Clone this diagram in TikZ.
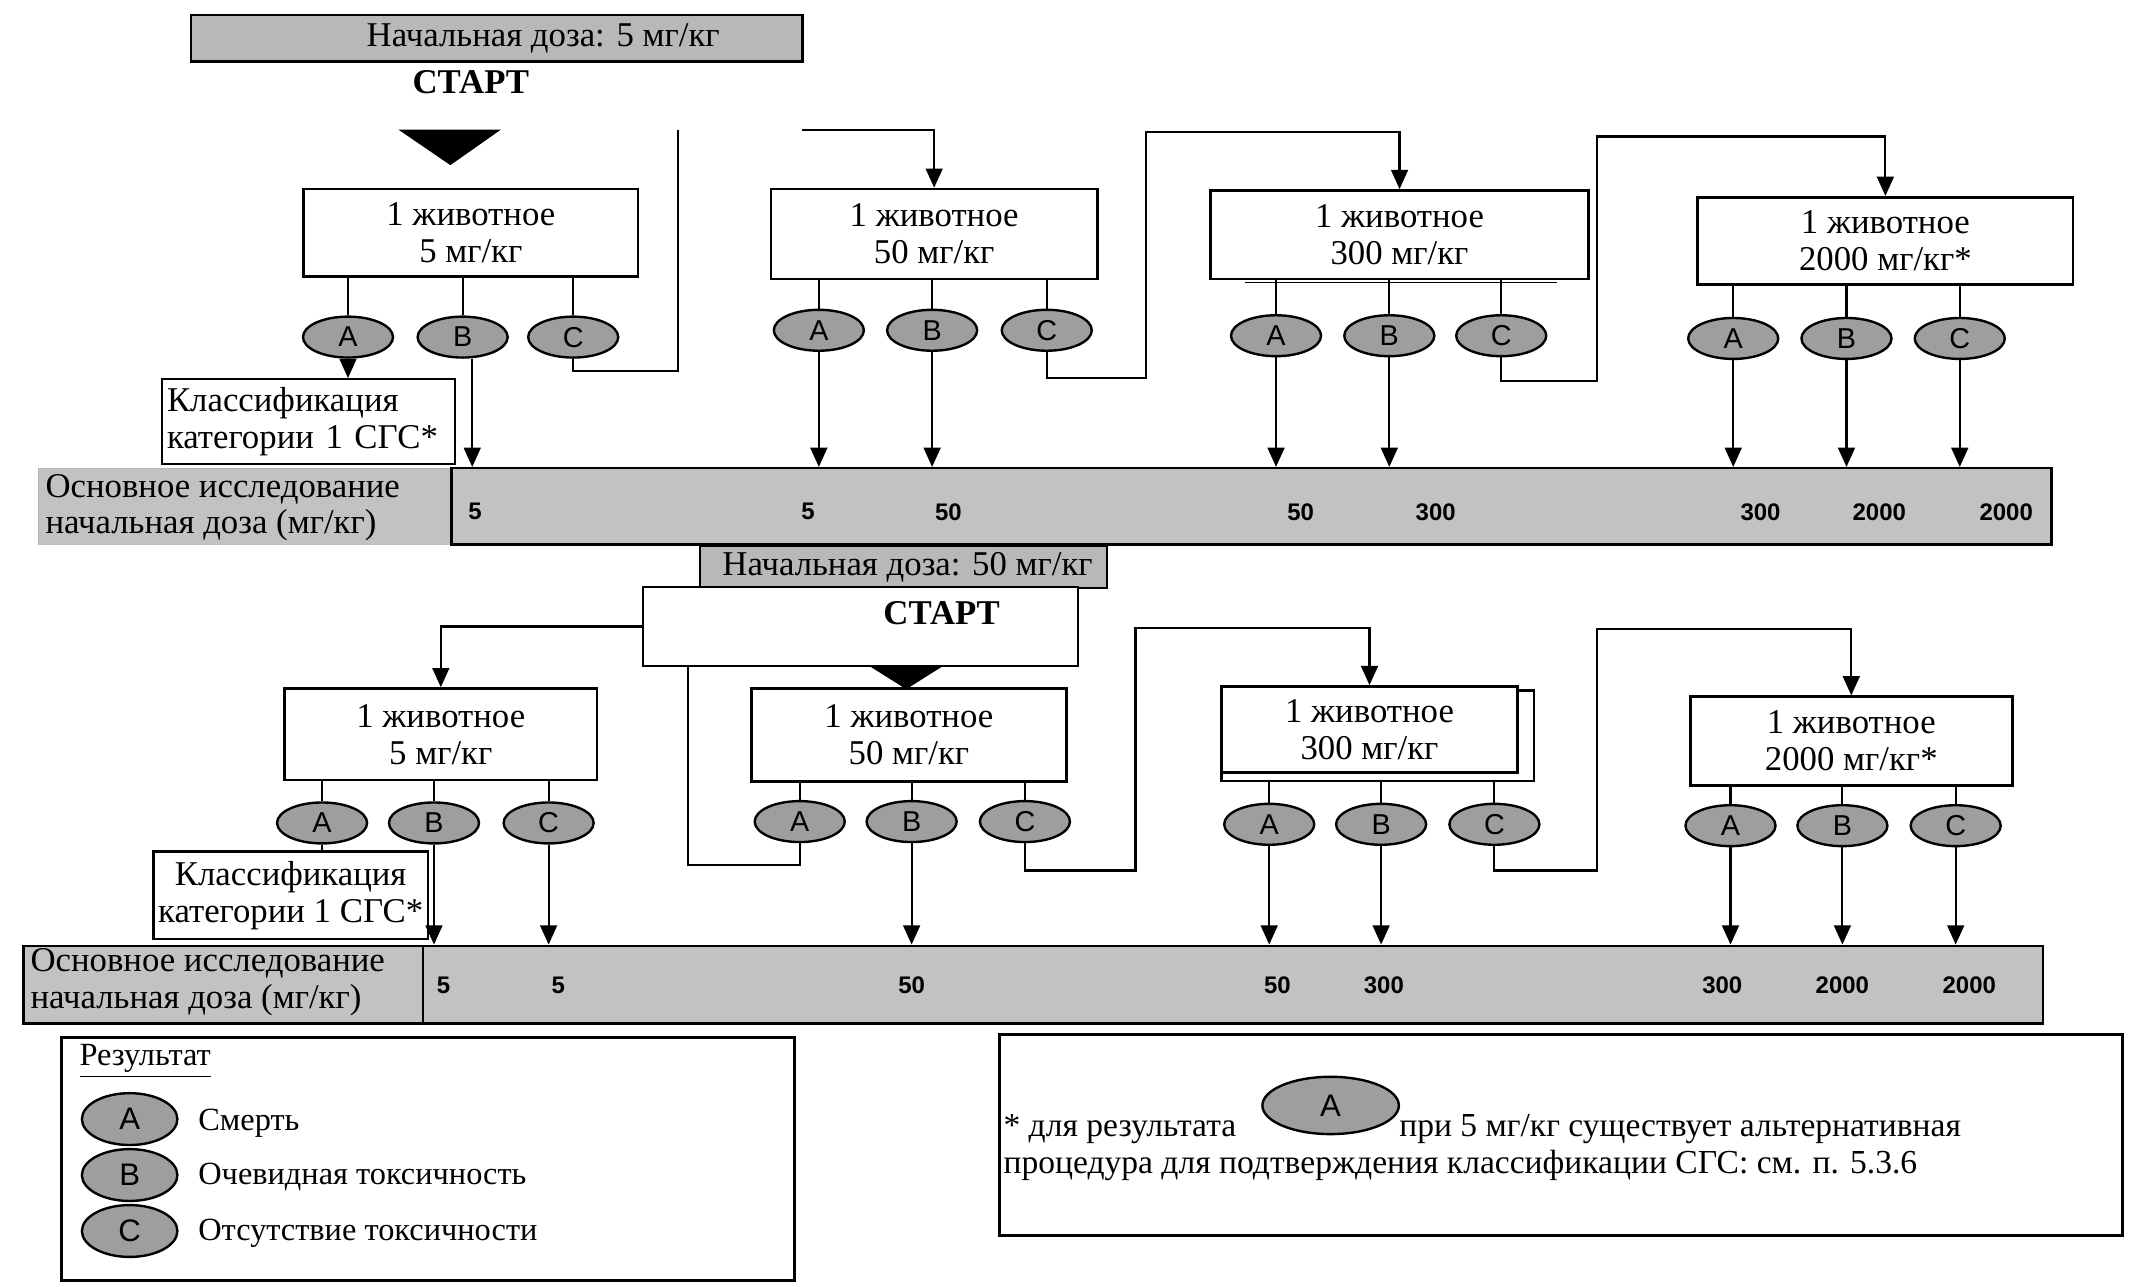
\documentclass[tikz,border=0pt]{standalone}
\usepackage{fontspec}
\setmainfont{Liberation Serif}
\newfontfamily\numfont{Liberation Sans}
\usetikzlibrary{arrows.meta,shapes.geometric}
\definecolor{gfill}{gray}{0.72}
\definecolor{efill}{gray}{0.62}
\definecolor{bfill}{gray}{0.76}
\tikzset{
  ln/.style={line width=0.9pt},
  arr/.style={ln, -{Triangle[length=8pt,width=7pt]}},
  animal/.style={draw, line width=1.1pt, fill=white, align=center, inner sep=0pt,
    font=\fontsize{14.5}{15.4}\selectfont},
  res/.style={ellipse, draw, line width=1pt, fill=efill, minimum width=1.32cm,
    minimum height=0.6cm, inner sep=0pt, font=\numfont\fontsize{12}{14}\selectfont},
  legres/.style={res, minimum width=1.4cm, minimum height=0.76cm,
    font=\numfont\fontsize{13}{15}\selectfont},
  dosebox/.style={draw, line width=1pt, fill=gfill, inner sep=0pt},
  barbox/.style={draw, line width=1pt, fill=bfill, inner sep=0pt},
  num/.style={font=\numfont\bfseries\fontsize{10}{12}\selectfont, inner sep=0pt},
  txt/.style={font=\fontsize{14.5}{15.4}\selectfont, inner sep=0pt},
  legtxt/.style={font=\fontsize{13.5}{15}\selectfont, inner sep=0pt},
  fntxt/.style={font=\fontsize{14}{15}\selectfont, inner sep=0pt},
  clsbox/.style={draw, line width=1pt, fill=white, inner sep=2pt,
    font=\fontsize{14.5}{15.4}\selectfont},
  frame/.style={draw, line width=1.3pt, fill=white, inner sep=0pt},
}
\begin{document}
\begin{tikzpicture}[x=0.02cm,y=-0.02cm]
\useasboundingbox (0,0) rectangle (1560,943);

% ---------------- upper scheme ----------------
\node[dosebox, minimum width=8.96cm, minimum height=0.68cm] (dose1) at (364,28) {};
\node[txt] (dose1t) at (398,28) {Начальная доза: 5 мг/кг};
\node[txt, font=\bfseries\fontsize{14.5}{15.4}\selectfont] (start1) at (345,60) {СТАРТ};
\fill (292,95) -- (367,95) -- (330,121) -- cycle;

% main bar
\fill[bfill] (28,343) rectangle (330,399);
\draw[gray!60, line width=0.5pt] (28,399) -- (28,343) -- (330,343);
\node[barbox, minimum width=23.45cm, minimum height=1.12cm] (bar1) at (917,371) {};
\node[txt, anchor=west, align=left] (lab1) at (33,372) {Основное исследование\\начальная доза (мг/кг)};

\node[animal, minimum width=4.90cm, minimum height=1.28cm] (b1) at (345,170.5) {1 животное\\5 мг/кг};
\node[animal, minimum width=4.78cm, minimum height=1.32cm] (b2) at (684.5,171.5) {1 животное\\50 мг/кг};
\node[animal, minimum width=5.54cm, minimum height=1.30cm] (b3) at (1025.5,172) {1 животное\\300 мг/кг};
\draw[line width=0.8pt] (912,207) -- (1141,207);
\node[animal, minimum width=5.50cm, minimum height=1.28cm] (b4) at (1381.5,176.5) {1 животное\\2000 мг/кг*};

\node[res] (A1) at (255,247) {A};
\node[res] (B1) at (339,247) {B};
\node[res] (C1) at (420,247) {C};
\node[res] (A2) at (600,242) {A};
\node[res] (B2) at (683,242) {B};
\node[res] (C2) at (767,242) {C};
\node[res] (A3) at (935,246) {A};
\node[res] (B3) at (1018,246) {B};
\node[res] (C3) at (1100,246) {C};
\node[res] (A4) at (1270,248) {A};
\node[res] (B4) at (1353,248) {B};
\node[res] (C4) at (1436,248) {C};

\node[clsbox, text width=4.15cm, align=left, minimum height=1.24cm, anchor=north west] (cls1) at (118,277)
  {Классификация\\категории 1 СГС*};

\foreach \e/\b in {A1/b1,B1/b1,C1/b1,A2/b2,B2/b2,C2/b2,A3/b3,B3/b3,C3/b3,A4/b4,B4/b4,C4/b4}
  \draw[ln] (\e.north |- \b.south) -- (\e.north);

\draw[arr] (A1.south) -- (A1.south |- cls1.north);
\draw[arr] ([xshift=4]B1.south) -- ([xshift=4]B1.south |- bar1.north);
\foreach \e in {A2,B2,A3,B3,A4,B4,C4}
  \draw[arr] (\e.south) -- (\e.south |- bar1.north);

\coordinate (g1) at (497,95);
\coordinate (g2) at (588,95);
\draw[ln] (C1.south) -- ++(0,9) -| (g1);
\draw[arr] (g2) -| (b2.north);
\draw[arr] (C2.south) -- ++(0,19) -| (840,97) -| (b3.north);
\draw[arr] (C3.south) -- ++(0,17) -| (1170,100) -| (b4.north);

\foreach \x/\t in {348/5,592/5,695/50,953/50,1052/300,1290/300,1377/2000,1470/2000}
  \node[num] at (\x,375) {\t};

% ---------------- lower scheme ----------------
\node[barbox, minimum width=29.6cm, minimum height=1.14cm] (bar2) at (757,721.5) {};
\draw[line width=1pt] (310,693) -- (310,750);
\node[txt, anchor=west, align=left] (lab2) at (22,720) {Основное исследование\\начальная доза (мг/кг)};

\node[dosebox, minimum width=5.96cm, minimum height=0.62cm] (dose2) at (662,415.5) {};
\node[txt] (dose2t) at (665,416) {Начальная доза: 50 мг/кг};
\node[frame, line width=1.1pt, minimum width=6.38cm, minimum height=1.16cm] (start2) at (630.5,459) {};
\node[txt, font=\bfseries\fontsize{14.5}{15.4}\selectfont] (start2t) at (690,449) {СТАРТ};
\fill (637,488) -- (691,488) -- (664,505) -- cycle;

\node[animal, minimum width=4.58cm, minimum height=1.34cm] (b5) at (323,538) {1 животное\\5 мг/кг};
\node[animal, minimum width=4.62cm, minimum height=1.36cm] (b6) at (666,538.5) {1 животное\\50 мг/кг};
\node[animal, minimum width=4.34cm, minimum height=1.26cm] (b7) at (1003.5,534.5) {1 животное\\300 мг/кг};
\draw[line width=0.9pt] (1112,506) -- (1124,506) -- (1124,572) -- (895,572) -- (895,566);
\node[animal, minimum width=4.72cm, minimum height=1.30cm] (b8) at (1356.5,543) {1 животное\\2000 мг/кг*};

\node[res] (A5) at (236,603) {A};
\node[res] (B5) at (318,603) {B};
\node[res] (C5) at (402,603) {C};
\node[res] (A6) at (586,602) {A};
\node[res] (B6) at (668,602) {B};
\node[res] (C6) at (751,602) {C};
\node[res] (A7) at (930,604) {A};
\node[res] (B7) at (1012,604) {B};
\node[res] (C7) at (1095,604) {C};
\node[res] (A8) at (1268,605) {A};
\node[res] (B8) at (1350,605) {B};
\node[res] (C8) at (1433,605) {C};

\node[clsbox, align=center, minimum width=4.0cm, minimum height=1.28cm] (cls2) at (213,656)
  {Классификация\\категории 1 СГС*};

\foreach \e/\b in {A5/b5,B5/b5,C5/b5,A6/b6,B6/b6,C6/b6,A8/b8,B8/b8,C8/b8}
  \draw[ln] (\e.north |- \b.south) -- (\e.north);
\foreach \e in {A7,B7,C7}
  \draw[ln] (\e.north |- 0,572) -- (\e.north);

\draw[ln] (A5.south) -- (A5.south |- cls2.north);
\foreach \e in {B5,C5,B6,A7,B7,A8,B8,C8}
  \draw[arr] (\e.south) -- (\e.south |- bar2.north);

\draw[arr] (start2.west) -| (b5.north);
\coordinate (s2a) at (504,488);
\draw[ln] (A6.south) |- (504,634) -- (s2a);
\draw[arr] (C6.south) -- ++(0,20) -| (832,460) -| (b7.north);
\draw[arr] (C7.south) -- ++(0,18) -| (1170,461) -| (b8.north);

\foreach \x/\t in {325/5,409/5,668/50,936/50,1014/300,1262/300,1350/2000,1443/2000}
  \node[num] at (\x,722) {\t};

% ---------------- legend ----------------
\node[frame, minimum width=10.74cm, minimum height=3.56cm] (leg) at (313.5,849) {};
\node[legtxt, anchor=base west] (legt) at (58,781) {\underline{Результат}};
\node[legres] (LA) at (95,820) {A};
\node[legres] (LB) at (95,861) {B};
\node[legres] (LC) at (95,902) {C};
\node[legtxt, anchor=base west] (lta) at (145,828) {Смерть};
\node[legtxt, anchor=base west] (ltb) at (145,868) {Очевидная токсичность};
\node[legtxt, anchor=base west] (ltc) at (145,909) {Отсутствие токсичности};

% ---------------- footnote ----------------
\node[frame, minimum width=16.46cm, minimum height=2.94cm] (fn) at (1143.5,831.5) {};
\node[fntxt, anchor=base west] (fn1) at (735,833) {* для результата};
\node[legres, minimum width=2.0cm, minimum height=0.84cm] (FA) at (975,810) {A};
\node[fntxt, anchor=base west] (fn2) at (1025,833) {при 5 мг/кг существует альтернативная};
\node[fntxt, anchor=base west] (fn3) at (735,860) {процедура для подтверждения классификации СГС: см. п. 5.3.6};
\end{tikzpicture}
\end{document}
